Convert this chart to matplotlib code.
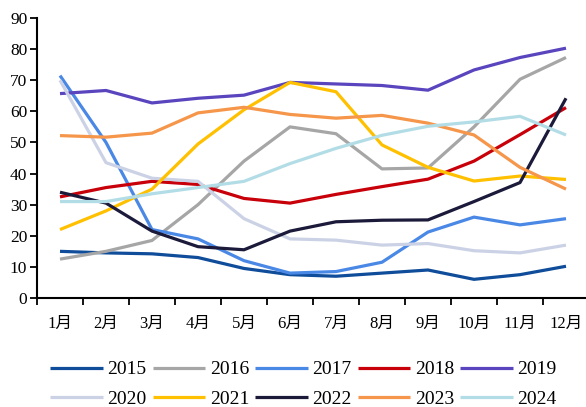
import matplotlib
matplotlib.use("Agg")
import matplotlib.pyplot as plt
from matplotlib.ticker import FixedLocator

plt.rcParams['font.family'] = ['Liberation Serif', 'Noto Sans CJK SC']

months = ["1月", "2月", "3月", "4月", "5月", "6月", "7月", "8月", "9月", "10月", "11月", "12月"]
years = ["2015", "2016", "2017", "2018", "2019", "2020", "2021", "2022", "2023", "2024"]

v2015 = [15, 14.5, 14.2, 13, 9.5, 7.5, 7, 8, 9, 6, 7.5, 10.2]
v2016 = [12.5, 15, 18.5, 30, 44, 55, 52.8, 41.5, 41.8, 55, 70.3, 77.3]
v2017 = [71.5, 50, 22, 19, 12, 8, 8.5, 11.5, 21.2, 26, 23.5, 25.5]
v2018 = [32.5, 35.5, 37.5, 36.5, 32, 30.5, 33.3, 35.8, 38.2, 44, 52.5, 61.2]
v2019 = [65.7, 66.7, 62.7, 64.2, 65.2, 69.3, 68.8, 68.3, 66.8, 73.3, 77.3, 80.3]
v2020 = [70, 43.5, 38.5, 37.5, 25.5, 19, 18.6, 17, 17.5, 15.2, 14.5, 17]
v2021 = [22, 28, 35, 49.5, 60.5, 69.3, 66.3, 49.2, 42, 37.6, 39.2, 38.1]
v2022 = [34, 30.5, 21.5, 16.5, 15.5, 21.5, 24.5, 25, 25.1, 31, 37.1, 64.2]
v2023 = [52.2, 51.7, 53, 59.5, 61.3, 59, 57.8, 58.7, 56.2, 52.4, 42, 35]
v2024 = [31, 31, 33.5, 35.5, 37.5, 43.2, 48.1, 52.3, 55.2, 56.6, 58.4, 52.4]

series = [v2015, v2016, v2017, v2018, v2019, v2020, v2021, v2022, v2023, v2024]
colors = ["#0F4C9A", "#A6A6A6", "#4A88E6", "#C8000A", "#5A45BE",
          "#CCD2E6", "#FFC000", "#1B1A3A", "#F5964A", "#B3DDE6"]

fig = plt.figure(figsize=(5.86, 4.07), dpi=100)
ax = fig.add_axes([37/586, 1 - 298/407, 552/586, 280/407])

x = list(range(1, len(months) + 1))
handles = []
for name, vals, c in zip(years, series, colors):
    h, = ax.plot(x, vals, color=c, lw=2.3, label=name, solid_capstyle='butt')
    handles.append(h)

ax.set_xlim(0.5, 12.5)
ax.set_ylim(0, 90)
ax.set_yticks(range(0, 91, 10))
ax.set_xticks(x)
ax.set_xticklabels(months)
ax.xaxis.set_minor_locator(FixedLocator([i + 0.5 for i in range(0, 12)]))
ax.tick_params(axis='x', which='major', length=0, pad=13, labelsize=12)
ax.tick_params(axis='x', which='minor', length=5, width=1.3, direction='out')
ax.tick_params(axis='y', length=5, width=1.3, direction='out', labelsize=12.5, pad=2)
for s in ['top', 'right']:
    ax.spines[s].set_visible(False)
for s in ['left', 'bottom']:
    ax.spines[s].set_linewidth(1.5)
    ax.spines[s].set_color('black')

order = [0, 5, 1, 6, 2, 7, 3, 8, 4, 9]
fig.legend([handles[i] for i in order], [years[i] for i in order],
           ncol=5, loc='center', bbox_to_anchor=(0.518, 0.056), frameon=False,
           fontsize=14, handlelength=2.7, handletextpad=0.25, columnspacing=0.3,
           labelspacing=0.6, borderpad=0)

fig.savefig("out.png", dpi=100)
